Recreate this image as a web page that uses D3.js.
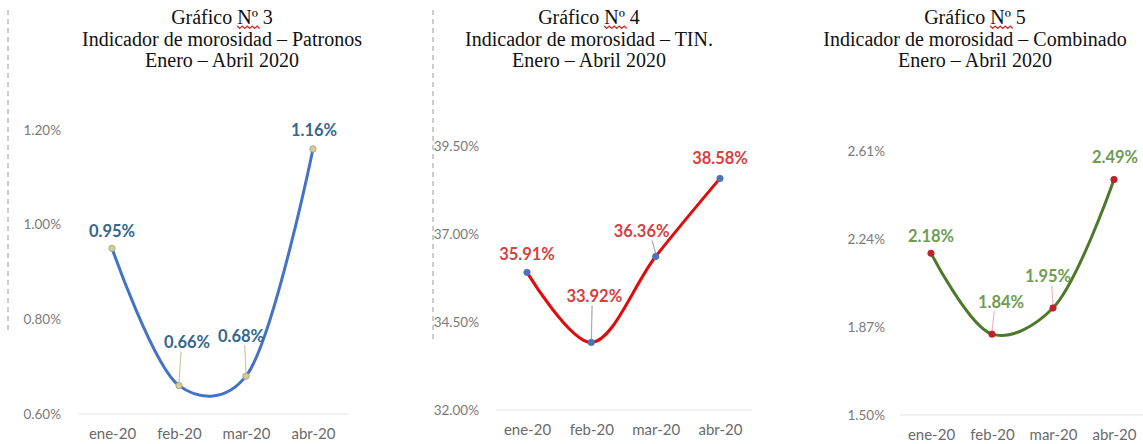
<!DOCTYPE html>
<html>
<head>
<meta charset="utf-8">
<script src="https://cdn.jsdelivr.net/npm/d3@7"></script>
<style>
  body { margin: 0; background: #fff; }
  svg { display: block; }
</style>
</head>
<body>
<div id="chart"></div>
<script>
// Data
const months = ["ene-20", "feb-20", "mar-20", "abr-20"];

const patronos = [0.95, 0.66, 0.68, 1.16];
const tin = [35.91, 33.92, 36.36, 38.58];
const combinado = [2.18, 1.84, 1.95, 2.49];

const ticksPatronos = [0.60, 0.80, 1.00, 1.20];
const ticksTin = [32.00, 34.50, 37.00, 39.50];
const ticksCombinado = [1.50, 1.87, 2.24, 2.61];

const titles = [
  ["Gráfico Nº 3", "Indicador de morosidad – Patronos", "Enero – Abril 2020"],
  ["Gráfico Nº 4", "Indicador de morosidad – TIN.", "Enero – Abril 2020"],
  ["Gráfico Nº 5", "Indicador de morosidad – Combinado", "Enero – Abril 2020"]
];

const W = 1143, H = 444;

const svg = d3.select("#chart")
  .append("svg")
  .attr("width", W)
  .attr("height", H);

// Layout and style of each panel
const panels = [
  {
    values: patronos, ticks: ticksPatronos, title: titles[0], titleX: 222,
    xRange: [112, 313], yRange: [414, 130], axisX: 64, gridX: [78, 348],
    line: "#4472c4", marker: "#d6cf8a", markerStroke: "#9a9a9a",
    label: "#33678f", leader: "#cfc6a8", alpha: 0.25,
    // label offsets (dx, dy) relative to each point
    offsets: [[0, -17], [8, -43], [-5, -40], [1, -18]], leaders: [false, true, true, false]
  },
  {
    values: tin, ticks: ticksTin, title: titles[1], titleX: 589,
    xRange: [527, 720], yRange: [410, 146], axisX: 482, gridX: [496, 752],
    line: "#e00b0b", marker: "#4a73b8", markerStroke: "#4a73b8",
    label: "#d8403f", leader: "#a9a9a9", alpha: 0.5,
    offsets: [[0, -18], [3, -46], [-14, -25], [0, -20]], leaders: [false, true, true, false]
  },
  {
    values: combinado, ticks: ticksCombinado, title: titles[2], titleX: 975,
    xRange: [931, 1114], yRange: [415, 151], axisX: 888, gridX: [900, 1150],
    line: "#4d7a2a", marker: "#c0202e", markerStroke: "#c0202e",
    label: "#6f9c52", leader: "#f0b8c0", alpha: 0.4,
    offsets: [[0, -17], [9, -32], [-5, -31], [1, -22]], leaders: [false, true, true, false]
  }
];

// Dashed separators
[[8, 10, 333], [433, 10, 340]].forEach(([x, y1, y2]) => {
  svg.append("line")
    .attr("x1", x).attr("x2", x)
    .attr("y1", y1).attr("y2", y2)
    .attr("stroke", "#9a9a9a")
    .attr("stroke-width", 1)
    .attr("stroke-dasharray", "5,4");
});

panels.forEach(p => {
  const g = svg.append("g");

  // Title lines
  p.title.forEach((t, i) => {
    const txt = g.append("text")
      .attr("x", p.titleX)
      .attr("y", 24 + i * 21.5)
      .attr("text-anchor", "middle")
      .style("font-family", "'Liberation Serif', 'Times New Roman', serif")
      .style("font-size", "20px")
      .attr("fill", "#111")
      .text(t);

    // Red spell-check squiggle under "Nº"
    if (i === 0) {
      const node = txt.node();
      const idx = t.indexOf("Nº");
      const box = node.getBBox();
      const x0 = box.x + node.getSubStringLength(0, idx);
      const w = node.getSubStringLength(idx, 2);
      const sq = d3.path();
      sq.moveTo(x0, 26);
      for (let xx = x0, k = 0; xx < x0 + w; xx += 2.5, k++) {
        sq.lineTo(xx + 2.5, k % 2 ? 26 : 28.5);
      }
      g.append("path")
        .attr("d", sq.toString())
        .attr("fill", "none")
        .attr("stroke", "#e02020")
        .attr("stroke-width", 1.2);
    }
  });

  const x = d3.scalePoint()
    .domain(months)
    .range(p.xRange);

  const y = d3.scaleLinear()
    .domain([p.ticks[0], p.ticks[p.ticks.length - 1]])
    .range(p.yRange);

  // Y axis labels only
  const yAxis = g.append("g")
    .attr("transform", `translate(${p.axisX},0)`)
    .call(d3.axisLeft(y)
      .tickValues(p.ticks)
      .tickSize(0)
      .tickPadding(3)
      .tickFormat(d => d.toFixed(2) + "%"));
  yAxis.select(".domain").remove();
  yAxis.selectAll("text")
    .style("font-family", "Lato, 'Open Sans', sans-serif")
    .style("font-size", "13.5px")
    .attr("fill", "#7a7a7a");

  // Baseline gridline
  g.append("line")
    .attr("x1", p.gridX[0]).attr("x2", p.gridX[1])
    .attr("y1", y(p.ticks[0])).attr("y2", y(p.ticks[0]))
    .attr("stroke", "#e3e3e3")
    .attr("stroke-width", 1);

  // X axis labels
  const xAxis = g.append("g")
    .attr("transform", `translate(0,${y(p.ticks[0]) + 11})`)
    .call(d3.axisBottom(x).tickSize(0).tickPadding(3));
  xAxis.select(".domain").remove();
  xAxis.selectAll("text")
    .style("font-family", "Lato, 'Open Sans', sans-serif")
    .style("font-size", "15px")
    .attr("fill", "#6a6a6a");

  const pts = months.map((m, i) => ({ m, v: p.values[i] }));

  // Smoothed line
  const line = d3.line()
    .x(d => x(d.m))
    .y(d => y(d.v))
    .curve(d3.curveCatmullRom.alpha(p.alpha));

  g.append("path")
    .datum(pts)
    .attr("fill", "none")
    .attr("stroke", p.line)
    .attr("stroke-width", 3)
    .attr("d", line);

  // Leader lines
  pts.forEach((d, i) => {
    if (!p.leaders[i]) return;
    const px = x(d.m), py = y(d.v);
    const [dx, dy] = p.offsets[i];
    g.append("line")
      .attr("x1", px + dx * 0.25)
      .attr("y1", py + dy + 9)
      .attr("x2", px)
      .attr("y2", py - 3)
      .attr("stroke", p.leader)
      .attr("stroke-width", 1.2);
  });

  // Markers
  g.selectAll("circle")
    .data(pts)
    .enter()
    .append("circle")
    .attr("cx", d => x(d.m))
    .attr("cy", d => y(d.v))
    .attr("r", 3.2)
    .attr("fill", p.marker)
    .attr("stroke", p.markerStroke)
    .attr("stroke-width", 0.8);

  // Data labels
  g.selectAll(".lbl")
    .data(pts)
    .enter()
    .append("text")
    .attr("class", "lbl")
    .attr("x", (d, i) => x(d.m) + p.offsets[i][0])
    .attr("y", (d, i) => y(d.v) + p.offsets[i][1] + 5.5)
    .attr("text-anchor", "middle")
    .style("font-family", "Lato, 'Open Sans', sans-serif")
    .style("font-size", "16.5px")
    .style("font-weight", "bold")
    .attr("fill", p.label)
    .text(d => d.v.toFixed(2) + "%");
});
</script>
</body>
</html>
